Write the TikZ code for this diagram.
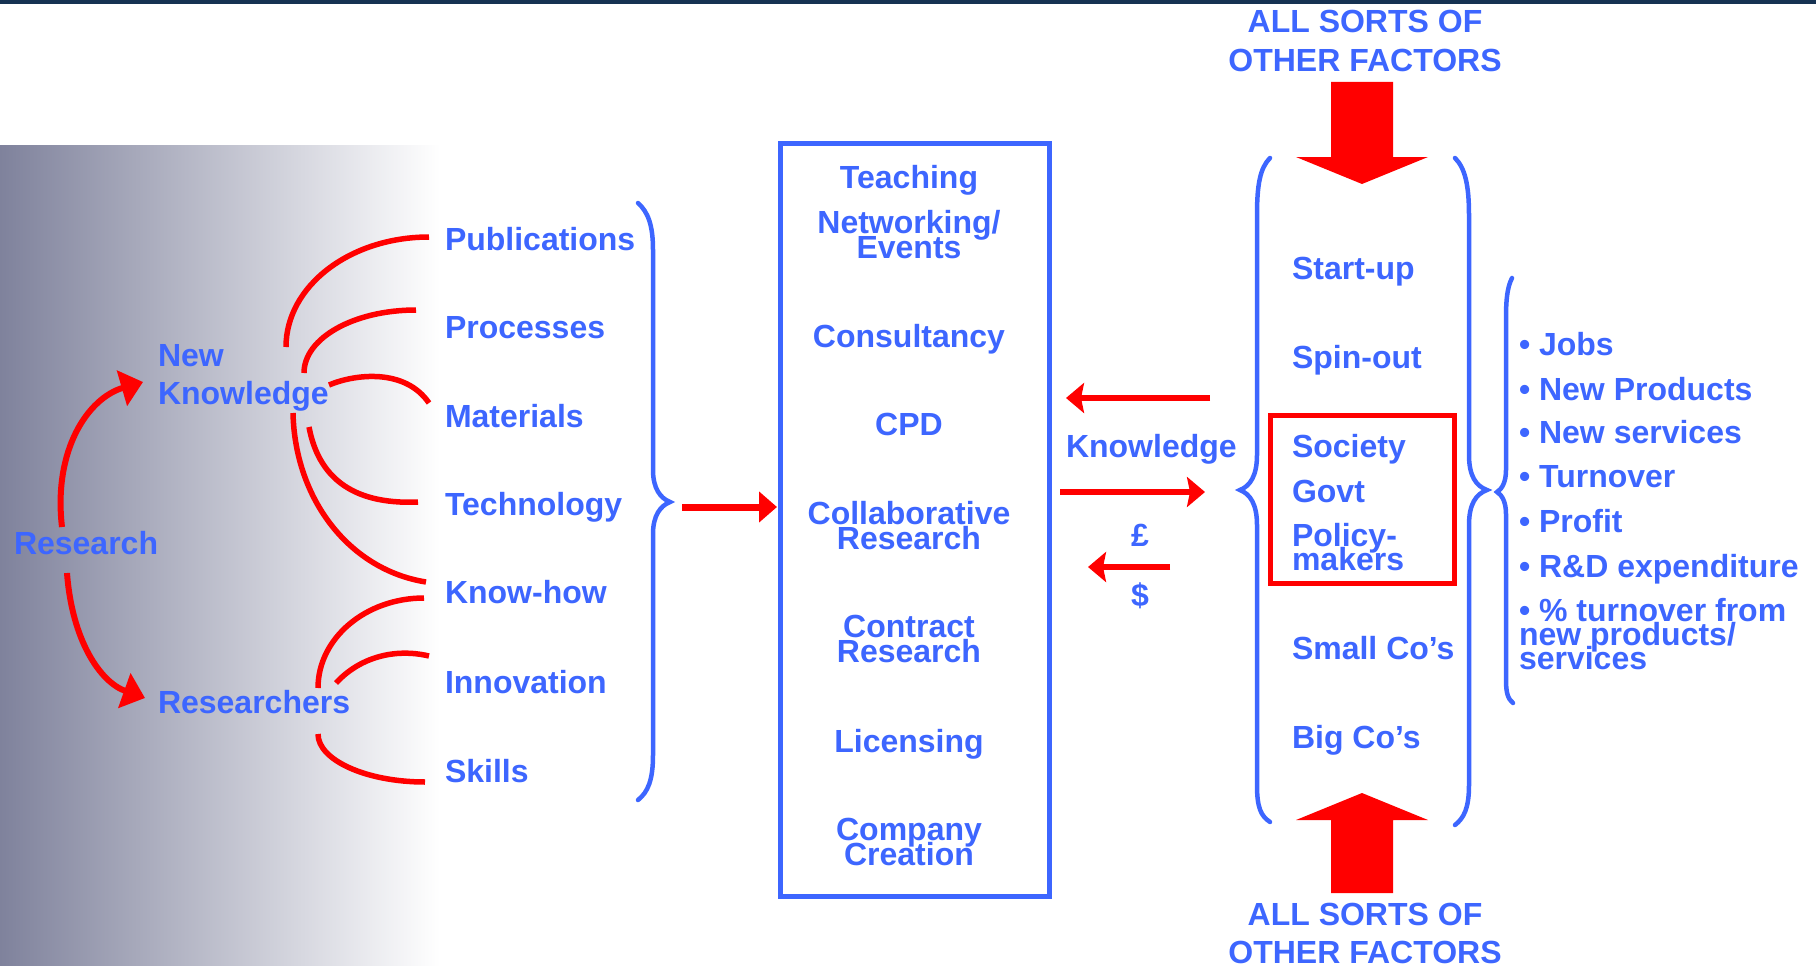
\documentclass[tikz,border=0pt]{standalone}
\usepackage{fontspec}
\setmainfont{Liberation Sans}
\usetikzlibrary{arrows.meta}
\definecolor{tblue}{RGB}{61,102,255}
\definecolor{tred}{RGB}{255,0,0}
\definecolor{navy}{RGB}{22,50,82}
\definecolor{gradgray}{RGB}{127,130,156}
\begin{document}
\begin{tikzpicture}[x=1pt,y=-1pt,
  lbl/.style={font=\fontsize{32}{25}\selectfont\bfseries, text=tblue, inner sep=0pt, outer sep=0pt},
  rcurve/.style={draw=tred, line width=5.5pt},
  rarrow/.style={draw=tred, line width=6pt, -{Triangle[length=22pt,width=36pt]}},
  karrow/.style={draw=tred, line width=6pt, -{Stealth[length=18pt,width=30pt,inset=3pt]}},
  bluebrace/.style={draw=tblue, line width=4.5pt, line cap=round},
  blockarrow/.style={fill=tred},
]
\useasboundingbox (0,0) rectangle (1816,966);
\fill[navy] (0,0) rectangle (1816,4);
\shade[left color=gradgray, right color=white] (0,145) rectangle (440,966);

% left labels
\node[lbl, anchor=base west] (research) at (14,554) {Research};
\node[lbl, anchor=base west] (newk) at (158,366) {New};
\node[lbl, anchor=base west] (knowl) at (158,404) {Knowledge};
\node[lbl, anchor=base west] (researchers) at (158,713) {Researchers};

\node[lbl, anchor=base west] (pub) at (445,250) {Publications};
\node[lbl, anchor=base west] (proc) at (445,338) {Processes};
\node[lbl, anchor=base west] (mat) at (445,427) {Materials};
\node[lbl, anchor=base west] (tech) at (445,515) {Technology};
\node[lbl, anchor=base west] (know) at (445,603) {Know-how};
\node[lbl, anchor=base west] (innov) at (445,693) {Innovation};
\node[lbl, anchor=base west] (skills) at (445,782) {Skills};

% research arrows
\coordinate (rA) at (62,527);
\coordinate (rB) at (67,573);
\coordinate (nkIn) at (143,382);
\coordinate (rsIn) at (145,698);
\draw[rarrow] (rA) .. controls (53,450) and (88,398) .. (nkIn);
\draw[rarrow] (rB) .. controls (72,640) and (100,682) .. (rsIn);

% curves from New Knowledge
\coordinate (nk1) at (286,347);  \coordinate (pubIn) at (429,237);
\coordinate (nk2) at (304,373);  \coordinate (procIn) at (416,310);
\coordinate (nk3) at (329,385);  \coordinate (matIn) at (429,403);
\coordinate (nk4) at (309,427);  \coordinate (techIn) at (418,502);
\coordinate (nk5) at (293,413);  \coordinate (knowIn) at (426,582);
\draw[rcurve] (nk1) .. controls (286,286) and (350,237) .. (pubIn);
\draw[rcurve] (nk2) .. controls (304,338) and (354,310) .. (procIn);
\draw[rcurve] (nk3) .. controls (355,374) and (405,368) .. (matIn);
\draw[rcurve] (nk4) .. controls (318,475) and (350,505) .. (techIn);
\draw[rcurve] (nk5) .. controls (295,500) and (350,570) .. (knowIn);
% curves from Researchers
\coordinate (rs1) at (318,688);  \coordinate (knowIn2) at (424,598);
\coordinate (rs2) at (336,683);  \coordinate (innovIn) at (429,656);
\coordinate (rs3) at (318,734);  \coordinate (skillsIn) at (425,782);
\draw[rcurve] (rs1) .. controls (318,638) and (366,598) .. (knowIn2);
\draw[rcurve] (rs2) .. controls (360,657) and (395,648) .. (innovIn);
\draw[rcurve] (rs3) .. controls (318,760) and (366,782) .. (skillsIn);

% small right brace
\draw[bluebrace] (638,203) .. controls (648,212) and (653,225) .. (653,250) -- (653,470)
  .. controls (653,488) and (660,498) .. (670,502)
  .. controls (660,506) and (653,516) .. (653,534) -- (653,755)
  .. controls (653,780) and (648,792) .. (638,800);

% main box
\node[draw=tblue, line width=5pt, minimum width=269pt, minimum height=753pt, inner sep=0pt, outer sep=0pt, anchor=north west] (box) at (780,143) {};
\coordinate (braceTip) at (682,507);
\draw[draw=tred, line width=7pt, -{Triangle[length=18pt,width=30pt]}] (braceTip) -- ([xshift=-3pt]box.west |- braceTip);

\node[lbl, anchor=base] (teach) at (909,188) {Teaching};
\node[lbl, anchor=base] (netw) at (909,233) {Networking/};
\node[lbl, anchor=base] (events) at (909,258) {Events};
\node[lbl, anchor=base] (cons) at (909,347) {Consultancy};
\node[lbl, anchor=base] (cpd) at (909,435) {CPD};
\node[lbl, anchor=base] (collab) at (909,524) {Collaborative};
\node[lbl, anchor=base] (collabr) at (909,549) {Research};
\node[lbl, anchor=base] (contr) at (909,637) {Contract};
\node[lbl, anchor=base] (contrr) at (909,662) {Research};
\node[lbl, anchor=base] (lic) at (909,752) {Licensing};
\node[lbl, anchor=base] (comp) at (909,840) {Company};
\node[lbl, anchor=base] (compc) at (909,865) {Creation};

% knowledge exchange arrows
\coordinate (kL1) at (1210,398); \coordinate (kL2) at (1066,398);
\coordinate (kR1) at (1060,492); \coordinate (kR2) at (1205,492);
\coordinate (mL1) at (1170,567); \coordinate (mL2) at (1088,567);
\draw[karrow] (kL1) -- (kL2);
\draw[karrow] (kR1) -- (kR2);
\draw[karrow] (mL1) -- (mL2);
\node[lbl, anchor=base west] (kn) at (1066,457) {Knowledge};
\node[lbl, anchor=base] (pound) at (1140,546) {£};
\node[lbl, anchor=base] (dollar) at (1140,606) {\$};

% column braces
\draw[bluebrace] (1270,158) .. controls (1260,168) and (1257,185) .. (1257,215) -- (1257,455)
  .. controls (1257,476) and (1250,486) .. (1240,490)
  .. controls (1250,494) and (1257,504) .. (1257,525) -- (1257,785)
  .. controls (1257,808) and (1261,816) .. (1270,822);
\draw[bluebrace] (1455,158) .. controls (1465,168) and (1469,185) .. (1469,215) -- (1469,455)
  .. controls (1469,476) and (1476,486) .. (1487,490)
  .. controls (1476,494) and (1469,504) .. (1469,525) -- (1469,785)
  .. controls (1469,808) and (1464,818) .. (1455,825);
\draw[bluebrace] (1512,278) .. controls (1507,288) and (1506,300) .. (1506,320) -- (1506,470)
  .. controls (1506,482) and (1502,489) .. (1497,492)
  .. controls (1502,495) and (1506,502) .. (1506,514) -- (1506,680)
  .. controls (1506,693) and (1508,699) .. (1513,703);

% red box
\draw[tred, line width=5pt] (1270,415) rectangle (1454,583);

% column labels
\node[lbl, anchor=base west] (startup) at (1292,279) {Start-up};
\node[lbl, anchor=base west] (spinout) at (1292,368) {Spin-out};
\node[lbl, anchor=base west] (society) at (1292,457) {Society};
\node[lbl, anchor=base west] (govt) at (1292,502) {Govt};
\node[lbl, anchor=base west] (policy) at (1292,546) {Policy-};
\node[lbl, anchor=base west] (makers) at (1292,570) {makers};
\node[lbl, anchor=base west] (smallco) at (1292,659) {Small Co’s};
\node[lbl, anchor=base west] (bigco) at (1292,748) {Big Co’s};

% other factors
\node[lbl, anchor=base] (asoTop) at (1365,33) {ALL SORTS OF};
\node[lbl, anchor=base] (ofTop) at (1365,72) {OTHER FACTORS};
\node[lbl, anchor=base] (asoBot) at (1365,925) {ALL SORTS OF};
\node[lbl, anchor=base] (ofBot) at (1365,963) {OTHER FACTORS};
\fill[blockarrow] (1331,82) -- (1393,82) -- (1393,157) -- (1428,157) -- (1362,184) -- (1296,157) -- (1331,157) -- cycle;
\fill[blockarrow] (1331,893) -- (1393,893) -- (1393,820) -- (1428,820) -- (1362,793) -- (1296,820) -- (1331,820) -- cycle;

% outcomes
\node[lbl, anchor=base west] (jobs) at (1519,355) {• Jobs};
\node[lbl, anchor=base west] (newprod) at (1519,400) {• New Products};
\node[lbl, anchor=base west] (newserv) at (1519,443) {• New services};
\node[lbl, anchor=base west] (turn) at (1519,487) {• Turnover};
\node[lbl, anchor=base west] (profit) at (1519,532) {• Profit};
\node[lbl, anchor=base west] (rnd) at (1519,577) {• R\&D expenditure};
\node[lbl, anchor=base west] (pct1) at (1519,621) {• \% turnover from};
\node[lbl, anchor=base west] (pct2) at (1519,645) {new products/};
\node[lbl, anchor=base west] (pct3) at (1519,669) {services};
\end{tikzpicture}
\end{document}
